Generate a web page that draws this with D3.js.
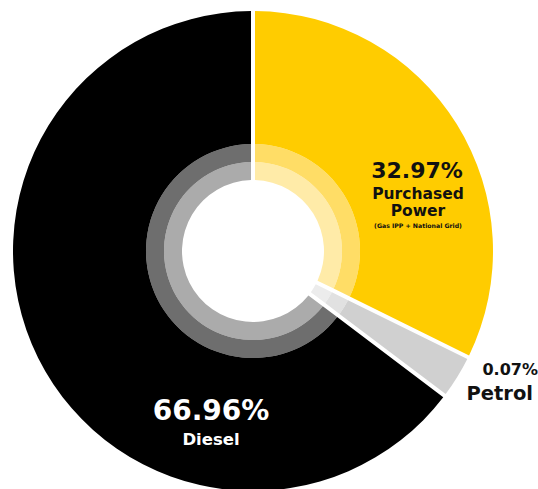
<!DOCTYPE html>
<html>
<head>
<meta charset="utf-8">
<script src="https://d3js.org/d3.v7.min.js"></script>
<style>
  body { margin: 0; background: #fff; }
  text { font-family: "DejaVu Sans", sans-serif; font-weight: bold; }
</style>
</head>
<body>
<div id="chart"></div>
<script>
// data
var categories = ["Purchased Power", "Petrol", "Diesel"];
var percentLabels = ["32.97%", "0.07%", "66.96%"];
// share of the circle each slice takes in the picture (petrol is drawn wider than its value)
var drawnShare = [32.3, 3.0, 64.7];
var nameLines = [["Purchased", "Power"], ["Petrol"], ["Diesel"]];
var noteLabels = ["(Gas IPP + National Grid)", "", ""];

var width = 538, height = 489;
var cx = 253, cy = 251;
var radii = [71, 89, 107, 240];

// ring colours, inside -> outside
var ringColors = [
  ["#FFEBA8", "#FFDD66", "#FFCC00"],
  ["#ECECEC", "#E1E1E1", "#D0D0D0"],
  ["#ABABAB", "#6E6E6E", "#000000"]
];

var svg = d3.select("#chart").append("svg")
  .attr("width", width)
  .attr("height", height);

var g = svg.append("g")
  .attr("transform", "translate(" + cx + "," + cy + ")");

var pie = d3.pie().sort(null).value(function (d) { return d; });
var slices = pie(drawnShare);

// three rings for every slice
for (var r = 0; r < 3; r++) {
  var arc = d3.arc()
    .innerRadius(radii[r])
    .outerRadius(radii[r + 1])
    .padRadius(240)
    .padAngle(4 / 240);

  g.selectAll(".ring" + r)
    .data(slices)
    .enter()
    .append("path")
    .attr("class", "ring" + r)
    .attr("d", arc)
    .attr("fill", function (d, i) { return ringColors[i][r]; });
}

// labels
var lab = svg.append("g");

// Purchased Power
lab.append("text").attr("x", 417).attr("y", 178).attr("text-anchor", "middle")
  .style("font-size", "22px").attr("fill", "#111").text(percentLabels[0]);
lab.append("text").attr("x", 418).attr("y", 199).attr("text-anchor", "middle")
  .style("font-size", "15.5px").attr("fill", "#111").text(nameLines[0][0]);
lab.append("text").attr("x", 418).attr("y", 216).attr("text-anchor", "middle")
  .style("font-size", "15.5px").attr("fill", "#111").text(nameLines[0][1]);
lab.append("text").attr("x", 418).attr("y", 228).attr("text-anchor", "middle")
  .style("font-size", "6.2px").attr("fill", "#111").text(noteLabels[0]);

// Petrol
lab.append("text").attr("x", 538).attr("y", 375).attr("text-anchor", "end")
  .style("font-size", "16px").attr("fill", "#111").text(percentLabels[1]);
lab.append("text").attr("x", 533).attr("y", 400).attr("text-anchor", "end")
  .style("font-size", "19.5px").attr("fill", "#111").text(nameLines[1][0]);

// Diesel
lab.append("text").attr("x", 211).attr("y", 420).attr("text-anchor", "middle")
  .style("font-size", "28px").attr("fill", "#fff").text(percentLabels[2]);
lab.append("text").attr("x", 211).attr("y", 445).attr("text-anchor", "middle")
  .style("font-size", "16.5px").attr("fill", "#fff").text(nameLines[2][0]);
</script>
</body>
</html>
